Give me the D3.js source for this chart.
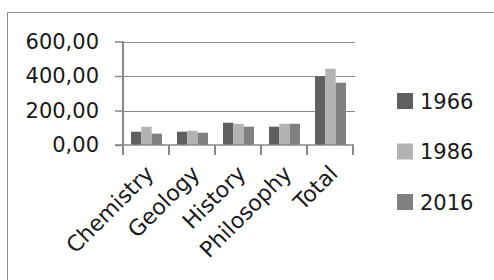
<!DOCTYPE html>
<html>
<head>
<meta charset="utf-8">
<script src="https://cdn.jsdelivr.net/npm/d3@7"></script>
<style>
  body { margin: 0; background: #fff; }
  svg { display: block; }
  text { font-family: "DejaVu Sans", sans-serif; fill: #1a1a1a; }
</style>
</head>
<body>
<svg id="chart" width="494" height="280"></svg>
<script>
const categories = ["Chemistry", "Geology", "History", "Philosophy", "Total"];
const seriesNames = ["1966", "1986", "2016"];
const values1966 = [77, 77, 129, 106, 398];
const values1986 = [106, 83, 123, 123, 442];
const values2016 = [66, 71, 106, 123, 361];
const yTicks = [0, 200, 400, 600];
const colors = ["#5f5f5f", "#b3b3b3", "#808080"];

const series = [values1966, values1986, values2016];
const svg = d3.select("#chart");

// chart frame (only top and left edges show)
svg.append("path")
  .attr("d", "M7.5,280V12.5H494")
  .attr("fill", "none")
  .attr("stroke", "#8a8a8a")
  .attr("stroke-width", 1);

const x0 = d3.scaleBand().domain(categories).range([123, 353]);
const x1 = d3.scaleBand().domain(seriesNames).range([8, 39]);
const y = d3.scaleLinear().domain([0, 600]).range([145, 41.5]);

// gridlines
svg.append("g").selectAll("line")
  .data(yTicks.filter(d => d > 0))
  .enter().append("line")
  .attr("x1", 123).attr("x2", 355)
  .attr("y1", d => Math.round(y(d)) + 0.5)
  .attr("y2", d => Math.round(y(d)) + 0.5)
  .attr("stroke", "#8a8a8a");

// y axis
const yAxis = svg.append("g")
  .attr("transform", "translate(123,0)")
  .call(d3.axisLeft(y).tickValues(yTicks).tickSize(8).tickPadding(16)
    .tickFormat(d => d3.format(".2f")(d).replace(".", ",")));
yAxis.select(".domain").attr("stroke", "#8a8a8a").attr("stroke-width", 2)
  .attr("d", "M0,41V155");
yAxis.selectAll(".tick line").attr("stroke", "#8a8a8a").attr("stroke-width", 1.5);
yAxis.selectAll("text").attr("font-size", 21).attr("font-family", null);

// bars
svg.append("g").selectAll("g")
  .data(categories)
  .enter().append("g")
  .attr("transform", d => "translate(" + x0(d) + ",0)")
  .selectAll("rect")
  .data((c, i) => seriesNames.map((s, j) => ({ s: s, v: series[j][i], j: j })))
  .enter().append("rect")
  .attr("x", d => x1(d.s))
  .attr("width", x1.bandwidth())
  .attr("y", d => y(d.v))
  .attr("height", d => y(0) - y(d.v))
  .attr("fill", d => colors[d.j]);

// x axis
const xAxis = svg.append("g")
  .attr("transform", "translate(0,145)");
xAxis.append("line")
  .attr("x1", 115).attr("x2", 354)
  .attr("stroke", "#8a8a8a").attr("stroke-width", 1.5);
xAxis.selectAll(".xtick")
  .data(categories.concat(["end"]))
  .enter().append("line")
  .attr("x1", (d, i) => 123 + i * x0.bandwidth())
  .attr("x2", (d, i) => 123 + i * x0.bandwidth())
  .attr("y1", 0).attr("y2", 10)
  .attr("stroke", "#8a8a8a").attr("stroke-width", 2);
xAxis.selectAll(".xlabel")
  .data(categories)
  .enter().append("text")
  .attr("text-anchor", "end")
  .attr("font-size", 22)
  .attr("transform", d => "translate(" + (x0(d) + x0.bandwidth() / 2 + 9) + ",30) rotate(-45)")
  .text(d => d);

// legend
const legend = svg.append("g").selectAll("g")
  .data(seriesNames)
  .enter().append("g")
  .attr("transform", (d, i) => "translate(397," + (93 + i * 50.5) + ")");
legend.append("rect")
  .attr("width", 16).attr("height", 16)
  .attr("fill", (d, i) => colors[i]);
legend.append("text")
  .attr("x", 23).attr("y", 8).attr("dy", "0.36em")
  .attr("font-size", 21)
  .text(d => d);
</script>
</body>
</html>
